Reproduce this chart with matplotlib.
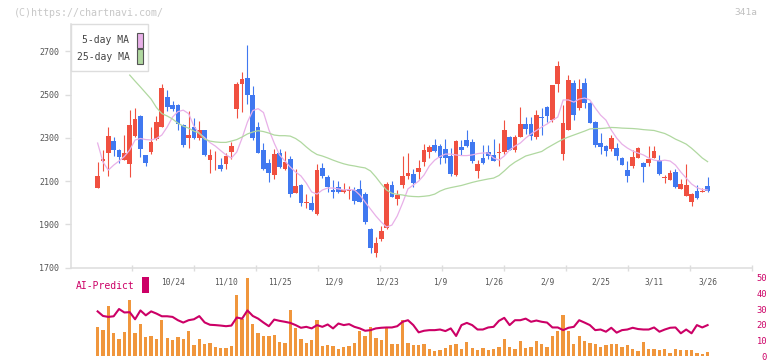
import numpy as np
import matplotlib.pyplot as plt
from matplotlib.patches import Rectangle

# daily candles, 10/03 .. 3/26 (116 sessions)
opens = [2080, 2070, 2192, 2228, 2285, 2244, 2198, 2178, 2308, 2400,
         2220, 2236, 2295, 2352, 2490, 2452, 2452, 2358, 2297, 2348,
         2300, 2336, 2197, 2200, 2175, 2181, 2236, 2432, 2550, 2575,
         2500, 2350, 2244, 2185, 2130, 2228, 2157, 2202, 2044, 2082,
         2000, 2000, 1948, 2160, 2118, 2060, 2074, 2048, 2056, 2060,
         2062, 2040, 1880, 1769, 1833, 1882, 2082, 2018, 2082, 2122,
         2134, 2140, 2190, 2236, 2267, 2262, 2248, 2216, 2128, 2258,
         2290, 2280, 2148, 2208, 2234, 2221, 2230, 2236, 2305, 2244,
         2305, 2362, 2362, 2305, 2398, 2444, 2382, 2548, 2225, 2336,
         2555, 2439, 2552, 2462, 2374, 2278, 2262, 2250, 2254, 2208,
         2151, 2170, 2208, 2185, 2185, 2208, 2197, 2113, 2105, 2143,
         2065, 2033, 2005, 2054, 2050, 2077]
highs = [2082, 2190, 2245, 2350, 2303, 2250, 2312, 2428, 2437, 2405,
         2222, 2351, 2400, 2548, 2521, 2470, 2455, 2362, 2425, 2390,
         2376, 2338, 2248, 2240, 2208, 2230, 2282, 2560, 2605, 2729,
         2539, 2374, 2277, 2201, 2247, 2250, 2240, 2216, 2156, 2085,
         2040, 2030, 2177, 2186, 2130, 2105, 2100, 2090, 2078, 2073,
         2105, 2052, 1885, 1840, 1893, 2097, 2102, 2060, 2216, 2231,
         2155, 2199, 2271, 2265, 2294, 2270, 2293, 2251, 2290, 2290,
         2336, 2294, 2197, 2267, 2267, 2294, 2278, 2382, 2308, 2313,
         2444, 2398, 2398, 2428, 2439, 2448, 2546, 2655, 2452, 2590,
         2567, 2570, 2578, 2465, 2378, 2322, 2268, 2313, 2275, 2210,
         2193, 2244, 2259, 2190, 2262, 2262, 2220, 2128, 2151, 2157,
         2110, 2179, 2046, 2082, 2068, 2118]
lows = [2080, 2068, 2147, 2125, 2218, 2183, 2197, 2120, 2302, 2213,
        2171, 2225, 2292, 2348, 2424, 2425, 2336, 2259, 2251, 2294,
        2290, 2215, 2136, 2150, 2148, 2156, 2200, 2393, 2421, 2458,
        2290, 2230, 2153, 2097, 2110, 2160, 2150, 2028, 2043, 1985,
        1975, 1963, 1943, 2113, 2052, 2022, 2046, 2043, 2018, 1994,
        2002, 1900, 1770, 1751, 1823, 1877, 2026, 1990, 2068, 2108,
        2072, 2108, 2168, 2208, 2235, 2180, 2182, 2126, 2124, 2220,
        2256, 2182, 2116, 2180, 2202, 2193, 2170, 2224, 2242, 2236,
        2303, 2318, 2290, 2294, 2312, 2374, 2374, 2513, 2197, 2334,
        2382, 2428, 2439, 2368, 2259, 2226, 2216, 2240, 2197, 2173,
        2097, 2162, 2206, 2097, 2171, 2206, 2128, 2093, 2103, 2067,
        2063, 2032, 1987, 2017, 2048, 2048]
closes = [2082, 2123, 2202, 2308, 2242, 2210, 2228, 2358, 2386, 2250,
          2186, 2282, 2374, 2530, 2444, 2432, 2363, 2265, 2313, 2300,
          2336, 2220, 2220, 2202, 2155, 2216, 2262, 2548, 2570, 2498,
          2300, 2232, 2155, 2136, 2225, 2163, 2188, 2042, 2077, 1997,
          2004, 1965, 2150, 2126, 2072, 2052, 2052, 2060, 2060, 2010,
          2005, 1913, 1793, 1815, 1870, 2087, 2028, 2038, 2125, 2139,
          2090, 2162, 2244, 2258, 2237, 2208, 2208, 2134, 2285, 2246,
          2262, 2194, 2180, 2182, 2216, 2195, 2234, 2336, 2244, 2305,
          2363, 2341, 2310, 2405, 2392, 2402, 2544, 2632, 2367, 2567,
          2405, 2525, 2463, 2370, 2267, 2256, 2240, 2300, 2217, 2175,
          2123, 2210, 2251, 2167, 2202, 2239, 2134, 2117, 2139, 2072,
          2087, 2082, 2040, 2023, 2054, 2056]

# moving averages as drawn (5-day from session 1, 25-day from session 7)
ma5 = [2276, 2188, 2151, 2174, 2193, 2214, 2244, 2290, 2297, 2292,
       2290, 2297, 2313, 2350, 2396, 2421, 2428, 2412, 2354, 2320,
       2301, 2278, 2262, 2241, 2221, 2207, 2234, 2299, 2373, 2426,
       2435, 2417, 2338, 2276, 2221, 2193, 2165, 2142, 2124, 2091,
       2050, 2040, 2059, 2068, 2068, 2064, 2059, 2061, 2059, 2036,
       2003, 1971, 1939, 1911, 1888, 1897, 1939, 1999, 2064, 2082,
       2100, 2128, 2170, 2197, 2214, 2225, 2225, 2221, 2218, 2218,
       2221, 2227, 2230, 2230, 2207, 2197, 2216, 2244, 2262, 2276,
       2299, 2318, 2334, 2350, 2364, 2382, 2396, 2475, 2475, 2465,
       2479, 2484, 2475, 2438, 2405, 2382, 2336, 2299, 2271, 2253,
       2239, 2230, 2221, 2207, 2197, 2193, 2197, 2193, 2174, 2142,
       2114, 2087, 2070, 2061, 2059]
ma25 = [2590, 2562, 2535, 2507, 2479, 2440, 2412, 2401, 2387, 2368,
        2354, 2345, 2331, 2322, 2294, 2285, 2281, 2279, 2279, 2285,
        2292, 2304, 2318, 2327, 2333, 2329, 2322, 2313, 2310, 2310,
        2308, 2297, 2280, 2258, 2238, 2223, 2216, 2207, 2197, 2188,
        2180, 2174, 2170, 2165, 2161, 2147, 2119, 2087, 2059, 2044,
        2039, 2036, 2031, 2029, 2028, 2030, 2033, 2040, 2054, 2064,
        2070, 2075, 2080, 2087, 2094, 2100, 2105, 2110, 2114, 2126,
        2147, 2170, 2188, 2202, 2216, 2223, 2230, 2237, 2253, 2267,
        2281, 2294, 2304, 2313, 2322, 2331, 2341, 2343, 2343, 2345,
        2348, 2347, 2345, 2344, 2343, 2341, 2338, 2336, 2334, 2327,
        2320, 2308, 2294, 2283, 2271, 2252, 2230, 2207, 2190]

# lower panel (sessions 1..115), both on the 0-50 scale
volume = [18.3, 16.6, 32, 14.6, 10.8, 15.2, 35.8, 14.6, 20.2, 12.1,
          12.9, 11, 23.3, 11.4, 10.4, 12.1, 11, 16, 7.3, 11,
          7.7, 8.3, 5.8, 5.2, 5.2, 6.7, 39.2, 23.5, 49.6, 20.8,
          14.6, 12.9, 12.9, 13.5, 8.9, 8.3, 29.2, 17.7, 10.8, 8.3,
          10.4, 22.9, 6.7, 7.3, 6.7, 4.8, 5.6, 6.7, 8.3, 16,
          12.9, 18.3, 11.4, 10.4, 18.3, 7.7, 7.7, 22.9, 8.3, 7.3,
          7.3, 7.7, 4.8, 3.1, 4.2, 5.2, 6.9, 7.7, 4.6, 8.9,
          5.2, 4.2, 5.2, 4.2, 4.8, 5.6, 10.8, 5.8, 4.6, 10,
          5.2, 5.8, 9.4, 7.7, 6.2, 13.1, 16, 26.4, 16.3, 7.7,
          12.9, 9.4, 8.3, 7.7, 6.2, 6.9, 7.7, 7.7, 6.2, 6.9,
          4.8, 3.1, 8.9, 4.8, 4.8, 4.2, 4.8, 2.1, 4.8, 3.7,
          3.7, 3.7, 2.1, 1.5, 2.7]
ai_predict = [28.5, 25.6, 25.0, 25.4, 30.0, 27.8, 28.0, 23.5, 29.1, 26.0,
              28.5, 27.1, 25.4, 25.4, 25.0, 22.9, 21.4, 22.9, 23.5, 25.5,
              21.5, 20.0, 19.8, 19.5, 19.1, 19.5, 24.6, 23.9, 29.1, 25.6,
              23.9, 21.4, 19.1, 23.3, 22.5, 21.9, 21.2, 19.8, 18.1, 18.7,
              17.7, 19.8, 18.7, 20.2, 17.7, 20.8, 19.8, 20.4, 18.7, 17.7,
              16.2, 16.6, 17.7, 18.1, 18.3, 18.3, 19.1, 21.9, 22.9, 19.8,
              15.2, 16.2, 16.6, 16.6, 17.0, 16.0, 17.7, 12.9, 19.8, 21.2,
              19.8, 17.0, 17.0, 18.3, 18.7, 22.5, 24.4, 19.8, 22.9, 22.9,
              23.9, 21.9, 22.7, 21.9, 21.4, 18.3, 18.3, 16.6, 18.1, 18.7,
              22.9, 21.4, 19.8, 16.6, 17.0, 15.6, 18.1, 15.0, 16.6, 17.0,
              18.1, 17.3, 17.0, 17.0, 18.3, 15.6, 17.0, 18.1, 18.3, 14.6,
              17.0, 14.6, 19.8, 18.3, 19.8]

date_labels = ['10/24', '11/10', '11/25', '12/9', '12/23', '1/9',
               '1/26', '2/9', '2/25', '3/11', '3/26']
date_pos = [15, 25, 35, 45, 55, 65, 75, 85, 95, 105, 115]

RED, BLUE = '#f05040', '#4078f0'
ORANGE, CRIMSON = '#f0963c', '#cc0066'
PINK, GREEN = '#e8b0e8', '#b0d8a0'
LINE, TXT = '#dddddd', '#555555'
MONO = 'DejaVu Sans Mono'

W, H = 772, 361
fig = plt.figure(figsize=(W / 100, H / 100), dpi=100)


def box(x0, y0, x1, y1):
    # pixel box, origin top-left -> figure rect
    return [x0 / W, 1 - y1 / H, (x1 - x0) / W, (y1 - y0) / H]


ax = fig.add_axes(box(70.5, 24, 752, 267.7))
axv = fig.add_axes(box(70.5, 277.5, 752, 356.3))
axv.patch.set_visible(False)

o, c = np.array(opens), np.array(closes)
idx = np.arange(len(c))
cols = np.where(c >= o, RED, BLUE)
ax.vlines(idx, lows, highs, colors=cols, lw=0.8, zorder=2)
ax.bar(idx, np.maximum(np.abs(c - o), 4), bottom=np.minimum(o, c),
       width=0.88, color=cols, lw=0, zorder=3)
ax.plot(np.arange(1, 1 + len(ma5)), ma5, color=PINK, lw=0.9, zorder=4)
ax.plot(np.arange(7, 7 + len(ma25)), ma25, color=GREEN, lw=0.9, zorder=4)

xlo, xhi = -4.07, 123.3
ax.set_xlim(xlo, xhi)
ax.set_ylim(1700, 2826)
for s in ['top', 'right']:
    ax.spines[s].set_visible(False)
for s in ['left', 'bottom']:
    ax.spines[s].set_color(LINE)
    ax.spines[s].set_linewidth(1.1)

ax.set_yticks(range(1700, 2701, 200))
ax.tick_params(axis='y', length=4, width=1, color=LINE, pad=4,
               labelsize=6, labelcolor=TXT)
ax.set_xticks(date_pos)
ax.set_xticklabels(date_labels)
ax.tick_params(axis='x', length=0, pad=7.2, labelsize=5.7, labelcolor=TXT)
ax.set_xticks(np.linspace(xlo, xhi, 12)[1:], minor=True)
ax.tick_params(axis='x', which='minor', length=5, width=1, color=LINE,
               direction='inout')
for lab in ax.get_xticklabels() + ax.get_yticklabels():
    lab.set_family(MONO)

# lower panel
k = np.arange(1, 1 + len(volume))
axv.bar(k, volume, width=0.62, color=ORANGE, lw=0)
axv.plot(k, ai_predict, color=CRIMSON, lw=1.5)
axv.set_xlim(xlo, xhi)
axv.set_ylim(0, 50)
for s in axv.spines.values():
    s.set_visible(False)
axv.set_xticks([])
axv.yaxis.tick_right()
axv.set_yticks(range(0, 51, 10))
axv.tick_params(axis='y', length=0, pad=10.8, labelsize=6.3,
                labelcolor=CRIMSON)
for lab in axv.get_yticklabels():
    lab.set_family(MONO)
    lab.set_horizontalalignment('right')
    lab.set_verticalalignment('center_baseline')

fig.text(76 / W, 1 - 286 / H, 'AI-Predict', color=CRIMSON, fontsize=7,
         family=MONO, va='center')
fig.add_artist(Rectangle(box(142.3, 277, 149, 292.7)[:2],
                         6.7 / W, 15.7 / H, transform=fig.transFigure,
                         color=CRIMSON, lw=0))

# legend
lb = box(70.5, 24, 148.3, 71)
fig.add_artist(Rectangle(lb[:2], lb[2], lb[3], transform=fig.transFigure,
                         facecolor='white', edgecolor=LINE, lw=1, zorder=5))
for name, col, yc in [('5-day MA', PINK, 40.2), ('25-day MA', GREEN, 56.5)]:
    fig.text(129.5 / W, 1 - yc / H, name, ha='right', va='center',
             fontsize=7, family=MONO, color='#444444', zorder=6)
    sb = box(136.5, yc - 7.5, 142.5, yc + 7.5)
    fig.add_artist(Rectangle(sb[:2], sb[2], sb[3], transform=fig.transFigure,
                             facecolor=col, edgecolor='#555555', lw=0.8,
                             zorder=6))

fig.text(14 / W, 1 - 12.5 / H, '(C)https://chartnavi.com/', fontsize=7.2,
         family=MONO, color='#c8c8c8', va='center')
fig.text(757 / W, 1 - 12.5 / H, '341a', fontsize=6.8, family=MONO,
         color='#c0c0c0', va='center', ha='right')

fig.savefig('out.png', dpi=100)
